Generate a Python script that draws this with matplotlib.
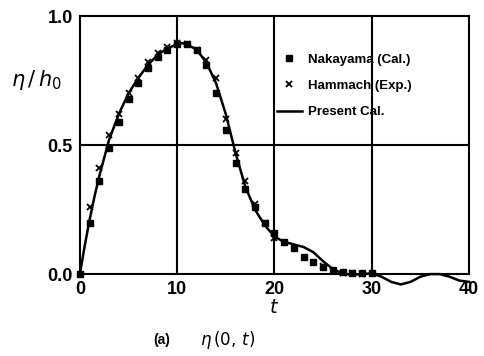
import matplotlib
matplotlib.use("Agg")
import matplotlib.pyplot as plt

# Nakayama (Cal.) - squares
nak_t = [0, 1, 2, 3, 4, 5, 6, 7, 8, 9, 10, 11, 12, 13, 14, 15, 16, 17, 18, 19,
         20, 21, 22, 23, 24, 25, 26, 27, 28, 29, 30]
nak_eta = [0.0, 0.20, 0.36, 0.49, 0.59, 0.68, 0.74, 0.80, 0.84, 0.87, 0.89, 0.89,
           0.87, 0.81, 0.70, 0.56, 0.43, 0.33, 0.26, 0.20, 0.16, 0.125, 0.10,
           0.066, 0.047, 0.028, 0.015, 0.008, 0.005, 0.003, 0.003]

# Hammach (Exp.) - crosses
ham_t = [1, 2, 3, 4, 5, 6, 7, 8, 9, 10, 11, 12, 13, 14, 15, 16, 17, 18, 19, 20,
         25, 26, 27, 28, 29]
ham_eta = [0.26, 0.41, 0.54, 0.62, 0.70, 0.76, 0.82, 0.855, 0.88, 0.895, 0.89,
           0.87, 0.83, 0.76, 0.60, 0.47, 0.36, 0.27, 0.20, 0.14,
           0.03, 0.012, 0.004, 0.006, 0.0]

# Present Cal. - line
cal_t = [0, 0.5, 1, 1.5, 2, 2.5, 3, 3.5, 4, 5, 6, 7, 8, 9, 10, 10.5, 11, 12, 13,
         14, 15, 16, 17, 18, 19, 20, 21, 22, 23, 24, 25, 26, 27, 28, 29, 30, 31,
         32, 33, 34, 35, 36, 37, 38, 39, 40]
cal_eta = [0.0, 0.11, 0.21, 0.30, 0.38, 0.45, 0.52, 0.57, 0.62, 0.70, 0.76,
           0.81, 0.85, 0.875, 0.89, 0.895, 0.89, 0.87, 0.82, 0.74, 0.62, 0.47,
           0.34, 0.25, 0.19, 0.145, 0.125, 0.115, 0.105, 0.085, 0.05, 0.02,
           0.002, -0.002, 0.0, 0.003, -0.01, -0.03, -0.04, -0.03, -0.01, 0.0,
           0.0, -0.01, -0.025, -0.03]

xticks = [0, 10, 20, 30, 40]
yticks = [0.0, 0.5, 1.0]

plt.rcParams['font.family'] = ['Liberation Sans', 'DejaVu Sans']

fig = plt.figure(figsize=(4.84, 3.56), dpi=100)
ax = fig.add_axes([0.165, 0.230, 0.804, 0.725])

for xv in [10, 20, 30]:
    ax.axvline(xv, color='black', lw=1.5, zorder=1)
ax.axhline(0.5, color='black', lw=1.5, zorder=1)

ax.plot(cal_t, cal_eta, color='black', lw=1.8, zorder=3, label='Present Cal.',
        clip_on=False)
ax.plot(nak_t, nak_eta, 's', color='black', ms=4.5, zorder=4,
        label='Nakayama (Cal.)', clip_on=False)
ax.plot(ham_t, ham_eta, 'x', color='black', ms=4.5, mew=1.3, zorder=4,
        label='Hammach (Exp.)', clip_on=False)

ax.set_xlim(0, 40)
ax.set_ylim(0, 1.0)
ax.set_xticks(xticks)
ax.set_xticklabels([str(v) for v in xticks])
ax.set_yticks(yticks)
ax.set_yticklabels(['0.0', '0.5', '1.0'])
ax.tick_params(length=0, labelsize=13, pad=5)
for lab in ax.get_xticklabels() + ax.get_yticklabels():
    lab.set_fontweight('bold')
for s in ax.spines.values():
    s.set_linewidth(1.5)

handles, labels = ax.get_legend_handles_labels()
order = [1, 2, 0]
leg = ax.legend([handles[i] for i in order], [labels[i] for i in order],
                loc='upper left', bbox_to_anchor=(0.475, 0.90), frameon=False,
                fontsize=9.5, handlelength=1.9, handletextpad=0.5,
                labelspacing=1.05, markerscale=0.9)
for txt in leg.get_texts():
    txt.set_fontweight('bold')

ax.set_xlabel('$t$', fontsize=14, labelpad=1)
fig.text(0.075, 0.775, r'$\eta\,/\,h_0$', fontsize=15, ha='center', va='center')
fig.text(0.335, 0.045, '(a)', fontsize=10, ha='center', va='center',
         fontweight='bold')
fig.text(0.47, 0.045, r'$\eta\,(0,\,t)$', fontsize=12, ha='center', va='center')

fig.savefig('out.png', dpi=100)
